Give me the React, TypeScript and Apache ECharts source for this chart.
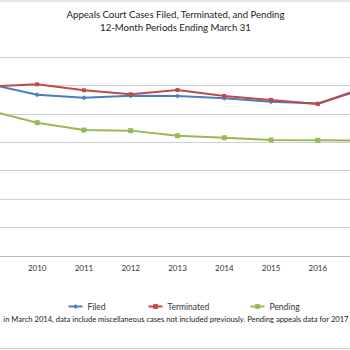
import React, { useEffect, useRef } from "react";
import * as echarts from "echarts";

const years = ["2009", "2010", "2011", "2012", "2013", "2014", "2015", "2016", "2017"];
const filed = [60400, 56750, 55700, 56400, 56300, 55500, 54300, 53650, 58800];
const terminated = [59600, 60400, 58300, 56900, 58400, 56300, 54900, 53450, 59350];
const pending = [51100, 46900, 44300, 44100, 42300, 41600, 40800, 40700, 40600];
const titleLines = ["Appeals Court Cases Filed, Terminated, and Pending", "12-Month Periods Ending March 31"];
const footnote =
  "in March 2014, data include miscellaneous cases not included previously. Pending appeals data for 2017";

const FONT = "Lato";
const OFFSET = 33.5; // the reference is a crop of a wider chart
const INNER_W = 421;

export default function App() {
  const ref = useRef<HTMLDivElement>(null);
  useEffect(() => {
    if (!ref.current) return;
    const chart = echarts.init(ref.current, undefined, { renderer: "svg" });
    const X = (x: number) => x + OFFSET;
    const legendBase = {
      itemWidth: 14,
      itemHeight: 6,
      top: 297,
      textStyle: { fontFamily: FONT, fontSize: 8.5, color: "#333" },
    };
    chart.setOption({
      animation: false,
      backgroundColor: "#ffffff",
      legend: [
        { ...legendBase, left: X(62), data: ["Filed"] },
        { ...legendBase, left: X(142), data: ["Terminated"] },
        { ...legendBase, left: X(244), data: ["Pending"] },
      ],
      grid: { left: 0, right: 0, top: 57, bottom: 94, containLabel: false },
      xAxis: {
        type: "category",
        data: years,
        boundaryGap: true,
        axisLine: { lineStyle: { color: "#bdbdbd", width: 1 } },
        axisTick: { length: 4, lineStyle: { color: "#bdbdbd" }, interval: 0 },
        axisLabel: {
          fontFamily: FONT,
          fontSize: 8,
          color: "#333",
          margin: 8,
          // the first and last year labels fall outside the cropped view
          interval: (i: number) => i > 0 && i < years.length - 1,
        },
      },
      yAxis: {
        type: "value",
        min: 0,
        max: 70000,
        interval: 10000,
        axisLabel: { show: false },
        axisLine: { show: false },
        axisTick: { show: false },
        splitLine: { lineStyle: { color: "#cfcfcf", width: 1 } },
      },
      series: [
        {
          name: "Filed",
          type: "line",
          data: filed,
          color: "#4a7ebb",
          symbol: "diamond",
          symbolSize: 5,
          lineStyle: { width: 2 },
        },
        {
          name: "Terminated",
          type: "line",
          data: terminated,
          color: "#be4b48",
          symbol: "rect",
          symbolSize: 4,
          lineStyle: { width: 2 },
        },
        {
          name: "Pending",
          type: "line",
          data: pending,
          color: "#98b954",
          symbol: "rect",
          symbolSize: 5,
          lineStyle: { width: 2 },
        },
      ],
      graphic: [
        { type: "line", shape: { x1: 0, y1: 1, x2: INNER_W, y2: 1 }, style: { stroke: "#cccccc", lineWidth: 1 } },
        { type: "line", shape: { x1: 0, y1: 348.5, x2: INNER_W, y2: 348.5 }, style: { stroke: "#cccccc", lineWidth: 1 } },
        {
          type: "text",
          x: X(175),
          y: 14,
          style: { text: titleLines[0], fontFamily: FONT, fontSize: 9.6, fill: "#222", align: "center", verticalAlign: "middle" },
        },
        {
          type: "text",
          x: X(175),
          y: 27,
          style: { text: titleLines[1], fontFamily: FONT, fontSize: 9.6, fill: "#222", align: "center", verticalAlign: "middle" },
        },
        {
          type: "text",
          x: X(348),
          y: 319,
          style: {
            text: footnote,
            fontFamily: FONT,
            fontSize: 7.6,
            fill: "#222",
            align: "right",
            verticalAlign: "middle",
          },
        },
      ],
    });
    return () => chart.dispose();
  }, []);
  return (
    <div style={{ position: "fixed", left: 0, top: 0, width: 350, height: 350, overflow: "hidden", background: "#fff" }}>
      <div ref={ref} style={{ position: "absolute", left: -OFFSET, top: 0, width: INNER_W, height: 350 }} />
    </div>
  );
}
